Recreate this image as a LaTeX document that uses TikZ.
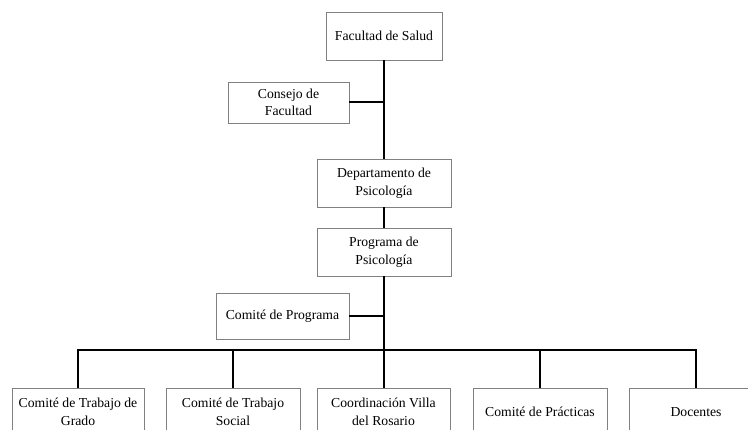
\documentclass[tikz,border=0pt]{standalone}
\usepackage{fontspec}
\setmainfont{Liberation Serif}
\begin{document}
\begin{tikzpicture}[x=1pt,y=-1pt,
  box/.style={draw=black!50, line width=0.8pt, fill=white, align=center, inner sep=1pt,
    font=\fontsize{13.7}{17.5}\selectfont},
  conn/.style={draw=black, line width=2pt}]
\useasboundingbox (0,0) rectangle (748,430);
\clip (0,0) rectangle (748,430);
\node[box, minimum width=116, minimum height=48] (fac) at (384,36) {Facultad de Salud};
\node[box, minimum width=121, minimum height=41] (cons) at (288.5,102.5) {Consejo de\\Facultad};
\node[box, minimum width=134, minimum height=48] (dep) at (384,183) {Departamento de\\Psicología};
\node[box, minimum width=134, minimum height=48] (prog) at (384,252) {Programa de\\Psicología};
\node[box, minimum width=133, minimum height=46] (comp) at (282.5,316) {Comité de Programa};
\node[box, minimum width=132, minimum height=48] (b1) at (78,412) {Comité de Trabajo de\\Grado};
\node[box, minimum width=134, minimum height=48] (b2) at (233,412) {Comité de Trabajo\\Social};
\node[box, minimum width=133, minimum height=48] (b3) at (383.5,412) {Coordinación Villa\\del Rosario};
\node[box, minimum width=134, minimum height=48] (b4) at (540,412) {Comité de Prácticas};
\node[box, minimum width=134, minimum height=48] (b5) at (696,412) {Docentes};
\coordinate (bus) at (384,350);
\draw[conn] (fac.south) -- (dep.north);
\draw[conn] (cons.east) -- (cons.east -| fac.south);
\draw[conn] (dep.south) -- (prog.north);
\draw[conn] (prog.south) -- (bus);
\draw[conn] (comp.east) -- (comp.east -| prog.south);
\draw[conn] ([xshift=-1pt]b1.north |- bus) -- ([xshift=1pt]b5.north |- bus);
\foreach \b in {b1,b2,b3,b4,b5} \draw[conn] (\b.north) -- (\b.north |- bus);
\end{tikzpicture}
\end{document}
